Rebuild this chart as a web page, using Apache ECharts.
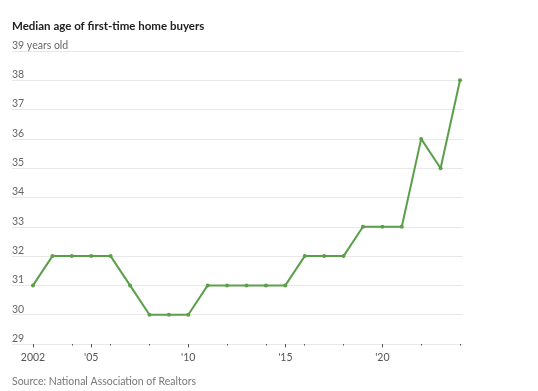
<!DOCTYPE html>
<html>
<head>
<meta charset="utf-8">
<script src="https://cdn.jsdelivr.net/npm/echarts@6/dist/echarts.min.js"></script>
<style>
html,body{margin:0;padding:0;background:#fff;}
#c{width:538px;height:391px;}
</style>
</head>
<body>
<div id="c"></div>
<script>
const years = ['2002','2003','2004','2005','2006','2007','2008','2009','2010','2011','2012','2013','2014','2015','2016','2017','2018','2019','2020','2021','2022','2023','2024'];
const medianAge = [31,32,32,32,32,31,30,30,30,31,31,31,31,31,32,32,32,33,33,33,36,35,38];
const majorYears = {'2002':'2002','2005':"'05",'2010':"'10",'2015':"'15",'2020':"'20"};
const yMin = 29, yMax = 39;

const chart = echarts.init(document.getElementById('c'));
const font = 'Lato, sans-serif';
chart.setOption({
  animation: false,
  backgroundColor: '#fff',
  title: [
    {text: 'Median age of first-time home buyers', left: 12, top: 20, padding: 0,
     textStyle: {fontFamily: font, fontWeight: 'bold', fontSize: 11.5, color: '#222'}},
    {text: 'Source: National Association of Realtors', left: 12, top: 376, padding: 0,
     textStyle: {fontFamily: font, fontWeight: 'normal', fontSize: 10.5, color: '#777'}}
  ],
  grid: [
    {left: 12, right: 75, top: 51, bottom: 391 - 344},
    {left: 33, right: 78, top: 51, bottom: 391 - 344}
  ],
  xAxis: [
    {gridIndex: 0, type: 'value', min: 0, max: 1, show: false},
    {gridIndex: 1, type: 'category', data: years, boundaryGap: false,
     axisLine: {show: false},
     axisTick: {show: true, length: 1.5, lineStyle: {color: '#555', width: 1}},
     axisLabel: {show: false}},
    {gridIndex: 1, type: 'category', data: years, boundaryGap: false, position: 'bottom',
     axisLine: {show: false},
     axisTick: {show: true, length: 3.5, interval: (i, v) => majorYears[v] !== undefined,
                lineStyle: {color: '#555', width: 1}},
     axisLabel: {show: true, interval: (i, v) => majorYears[v] !== undefined,
                 formatter: v => majorYears[v] || '', margin: 8,
                 fontFamily: font, fontSize: 10.5, color: '#555'}}
  ],
  yAxis: [
    {gridIndex: 0, type: 'value', min: yMin, max: yMax, interval: 1,
     axisLine: {show: false}, axisTick: {show: false},
     splitLine: {lineStyle: {color: '#e8e8e8', width: 1}},
     axisLabel: {inside: true, margin: 0, verticalAlign: 'bottom', lineHeight: 11, padding: [0,0,0,0],
                 fontFamily: font, fontSize: 10.5, color: '#666',
                 formatter: v => v === yMax ? v + ' years old' : String(v)}},
    {gridIndex: 1, type: 'value', min: yMin, max: yMax, interval: 1, show: false}
  ],
  series: [{
    type: 'line', xAxisIndex: 1, yAxisIndex: 1, data: medianAge,
    symbol: 'circle', symbolSize: 4,
    lineStyle: {color: '#5b9f4a', width: 2},
    itemStyle: {color: '#5b9f4a'}
  }]
});
</script>
</body>
</html>
